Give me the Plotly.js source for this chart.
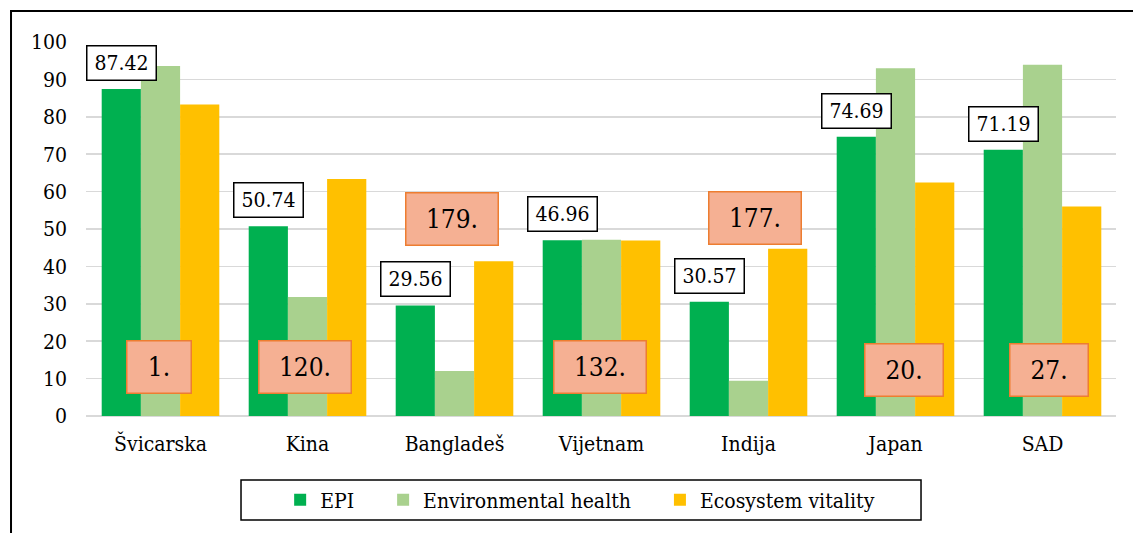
<!DOCTYPE html>
<html>
<head>
<meta charset="utf-8">
<script src="https://cdn.plot.ly/plotly-3.0.1.min.js"></script>
<style>html,body{margin:0;padding:0;background:#fff;}#chart{width:1133px;height:533px;}</style>
</head>
<body>
<div id="chart"></div>
<script>
// ---- data ----
const categories = ['Švicarska', 'Kina', 'Bangladeš', 'Vijetnam', 'Indija', 'Japan', 'SAD'];
const epi = [87.42, 50.74, 29.56, 46.96, 30.57, 74.69, 71.19];
const envHealth = [93.6, 31.8, 12.0, 47.1, 9.4, 93.0, 93.9];
const ecoVitality = [83.3, 63.4, 41.4, 46.9, 44.7, 62.4, 56.0];
const ranks = ['1.', '120.', '179.', '132.', '177.', '20.', '27.'];
const seriesNames = ['EPI', 'Environmental health', 'Ecosystem vitality'];
const yTicks = [0, 10, 20, 30, 40, 50, 60, 70, 80, 90, 100];

// ---- layout helpers (placement of the rank boxes) ----
const rankBoxY = [13.2, 13, 52.8, 13, 53, 12.4, 12.3];
const rankBoxShift = [-2, -3, -3, -2, 6, 8, 6];

const FONT = 'DejaVu Serif Condensed, DejaVu Serif, serif';
const colors = ['#00B050', '#A9D18E', '#FFC000'];
const NB = '\u00A0';
const pad = [NB.repeat(4), NB.repeat(4), ''];
const seriesValues = [epi, envHealth, ecoVitality];

const traces = seriesValues.map((vals, i) => ({
  type: 'bar',
  x: categories,
  y: vals,
  name: seriesNames[i] + pad[i],
  marker: {color: colors[i], line: {width: 0}},
  hoverinfo: 'x+y+name'
}));

const annotations = [];
categories.forEach((c, i) => {
  annotations.push({
    x: c, y: epi[i], xref: 'x', yref: 'y',
    text: epi[i].toFixed(2),
    showarrow: false, xanchor: 'center', yanchor: 'bottom',
    xshift: -39, yshift: 8,
    width: 68, height: 33,
    bgcolor: '#FFFFFF', bordercolor: '#000000', borderwidth: 1.5, borderpad: 0,
    font: {family: FONT, size: 21, color: '#000'}
  });
  const digits = ranks[i].length - 1;
  annotations.push({
    x: c, y: rankBoxY[i], xref: 'x', yref: 'y',
    text: ranks[i],
    showarrow: false, xanchor: 'center', yanchor: 'middle',
    xshift: rankBoxShift[i],
    width: Math.round(28 * (0.5 * digits + 0.25) + 42), height: 51,
    bgcolor: '#F5B093', bordercolor: '#ED7D31', borderwidth: 1.5, borderpad: 0,
    font: {family: FONT, size: 26, color: '#000'}
  });
});

const layout = {
  width: 1133, height: 533,
  margin: {l: 86, r: 17, t: 42, b: 117, pad: 0},
  paper_bgcolor: '#FFFFFF', plot_bgcolor: '#FFFFFF',
  font: {family: FONT, size: 21, color: '#000'},
  barmode: 'group', bargap: 0.2, bargroupgap: 0,
  showlegend: true,
  legend: {
    orientation: 'h', x: 0.1885, xanchor: 'left', y: -0.2246, yanchor: 'middle',
    valign: 'middle', bgcolor: 'rgba(0,0,0,0)', borderwidth: 0,
    font: {family: FONT, size: 21, color: '#000'}, traceorder: 'normal'
  },
  xaxis: {
    type: 'category', showgrid: false, zeroline: false, showline: false,
    ticks: '', ticklabelstandoff: 13,
    tickfont: {family: FONT, size: 21, color: '#000'}
  },
  yaxis: {
    range: [0, 100], tickvals: yTicks, ticktext: yTicks.map(String),
    showgrid: true, gridcolor: '#D9D9D9', gridwidth: 1.5,
    zeroline: true, zerolinecolor: '#D9D9D9', zerolinewidth: 1.5,
    showline: false, ticks: '', ticklabelstandoff: 18,
    tickfont: {family: FONT, size: 21, color: '#000'}
  },
  annotations: annotations,
  shapes: [
    {type: 'rect', xref: 'paper', yref: 'paper', x0: -0.0728, x1: 1.05, y0: -0.40, y1: 1.0829,
     line: {color: '#000', width: 2}, fillcolor: 'rgba(0,0,0,0)', layer: 'below'},
    {type: 'rect', xref: 'paper', yref: 'paper', x0: 0.1505, x1: 0.8107, y0: -0.278, y1: -0.171,
     line: {color: '#000', width: 1.5}, fillcolor: 'rgba(0,0,0,0)'}
  ]
};

Plotly.newPlot('chart', traces, layout, {displayModeBar: false, staticPlot: true});
</script>
</body>
</html>
